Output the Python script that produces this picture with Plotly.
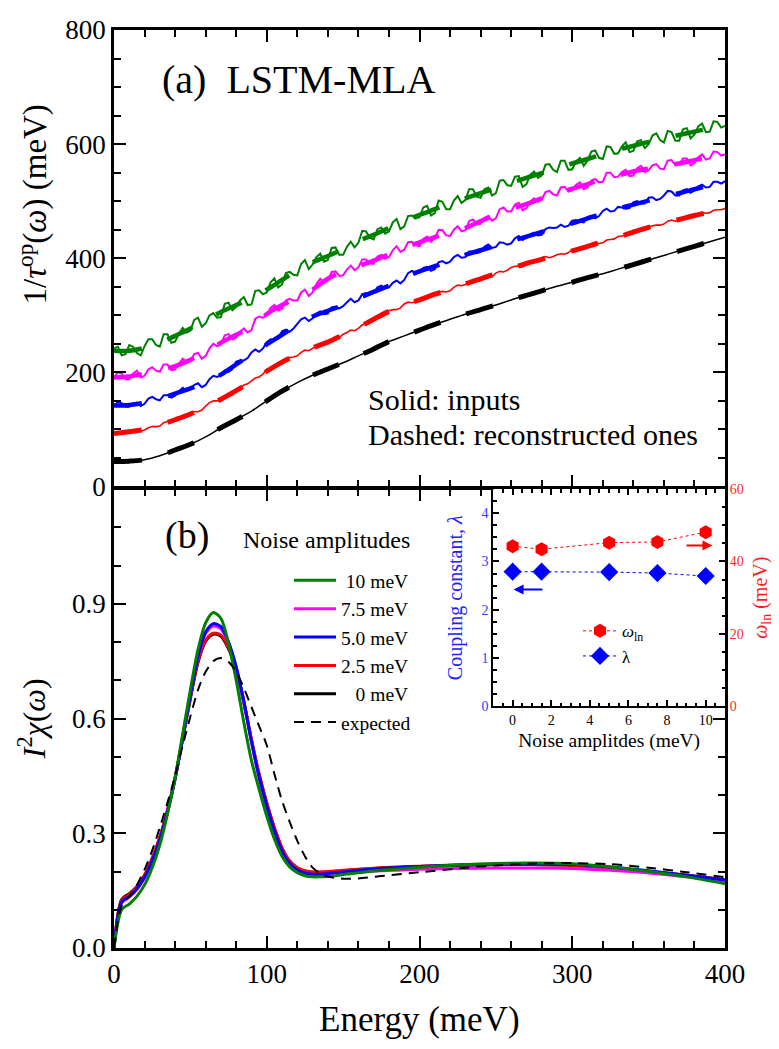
import plotly.graph_objects as go

FONT = "Liberation Serif"

# ---------------- Panel (a): optical scattering rate 1/tau^op (meV) ----------------
energy_noisy = [k * 2.5 for k in range(161)]   # grid of the noisy inputs (0 ... 400 meV)
energy_smooth = list(range(0, 401, 10))        # grid of smooth curves

rate_0meV = [44, 44.5, 47, 54, 64, 74, 87, 103, 117, 132, 150, 167, 182, 195, 206, 217, 229, 241, 254, 264,
             274, 284, 293, 302, 310, 318, 327, 335, 343, 351, 358, 366, 373, 381, 389, 397, 405, 413, 421, 429, 437]

rate_2p5_input = [93, 96, 95, 94, 95, 98, 100, 97, 99, 103, 105, 105, 106, 112, 114, 114, 117, 120, 121, 123,
                  129, 131, 131, 134, 141, 147, 150, 150, 152, 158, 160, 161, 166, 172, 178, 180, 185, 190, 192, 197,
                  205, 207, 208, 211, 218, 224, 226, 227, 229, 235, 239, 238, 242, 247, 251, 250, 252, 256, 257, 261,
                  267, 270, 274, 273, 277, 283, 286, 289, 295, 298, 299, 302, 308, 310, 310, 313, 320, 323, 322, 324,
                  326, 331, 334, 333, 336, 341, 342, 341, 343, 349, 353, 352, 354, 359, 360, 362, 366, 367, 366, 368,
                  374, 377, 376, 379, 384, 386, 386, 385, 389, 393, 396, 397, 401, 403, 401, 403, 406, 408, 407, 410,
                  415, 416, 416, 417, 422, 425, 427, 426, 427, 432, 433, 434, 438, 439, 440, 442, 449, 449, 448, 449,
                  455, 457, 458, 458, 460, 465, 467, 465, 466, 471, 472, 471, 475, 478, 480, 479, 480, 484, 485, 485,
                  487]
rate_5_input = [142, 148, 146, 140, 140, 145, 147, 141, 145, 154, 157, 153, 151, 160, 160, 156, 159, 167, 173, 168,
                170, 178, 181, 174, 178, 188, 194, 192, 195, 203, 201, 206, 219, 221, 221, 225, 235, 240, 236, 242,
                253, 258, 257, 259, 272, 275, 271, 277, 285, 293, 296, 290, 295, 303, 307, 302, 303, 314, 315, 312,
                316, 323, 329, 323, 326, 337, 339, 337, 340, 349, 352, 347, 349, 357, 361, 356, 362, 374, 378, 375,
                375, 383, 385, 378, 381, 393, 395, 391, 394, 402, 406, 401, 402, 412, 412, 409, 411, 420, 424, 418,
                420, 428, 427, 424, 426, 435, 439, 432, 436, 442, 445, 440, 441, 451, 454, 453, 454, 459, 455, 457,
                466, 467, 464, 463, 472, 474, 470, 474, 483, 487, 482, 483, 490, 489, 487, 488, 498, 500, 496, 496,
                506, 507, 502, 504, 510, 518, 517, 510, 510, 519, 521, 515, 519, 526, 529, 524, 525, 534, 534, 531,
                535]
rate_7p5_input = [191, 200, 198, 188, 188, 198, 203, 191, 194, 205, 209, 203, 201, 214, 214, 204, 205, 215, 224, 218,
                  220, 232, 234, 224, 229, 242, 250, 246, 249, 265, 267, 258, 261, 271, 277, 270, 274, 294, 298, 296,
                  300, 313, 318, 308, 312, 326, 329, 326, 326, 340, 345, 334, 340, 355, 364, 357, 361, 376, 377, 369,
                  370, 380, 387, 379, 384, 398, 398, 391, 390, 403, 406, 399, 402, 414, 421, 411, 415, 428, 429, 423,
                  421, 434, 438, 429, 435, 450, 449, 440, 439, 450, 456, 447, 449, 465, 468, 461, 460, 471, 474, 466,
                  470, 486, 489, 482, 482, 494, 497, 484, 488, 499, 505, 499, 503, 516, 518, 512, 510, 524, 525, 517,
                  519, 529, 533, 521, 524, 536, 539, 533, 534, 550, 550, 542, 543, 551, 555, 544, 545, 558, 562, 551,
                  554, 563, 565, 557, 556, 571, 572, 563, 564, 575, 575, 563, 567, 577, 582, 573, 575, 587, 586, 580,
                  582]
rate_10_input = [242, 245, 230, 232, 248, 245, 234, 230, 246, 258, 258, 248, 245, 267, 267, 252, 254, 268, 278, 270,
                 273, 292, 296, 280, 286, 300, 304, 296, 297, 320, 322, 309, 315, 326, 332, 318, 319, 343, 344, 337,
                 340, 358, 365, 349, 354, 374, 376, 371, 370, 390, 397, 381, 389, 402, 408, 394, 397, 418, 419, 406,
                 406, 420, 429, 419, 427, 448, 447, 436, 433, 451, 454, 443, 447, 463, 469, 451, 456, 474, 475, 470,
                 472, 489, 492, 475, 479, 501, 499, 486, 486, 501, 509, 497, 502, 521, 521, 508, 506, 521, 524, 510,
                 514, 536, 537, 528, 527, 543, 544, 525, 530, 546, 552, 541, 545, 564, 565, 555, 551, 571, 571, 555,
                 556, 570, 576, 562, 571, 587, 589, 576, 574, 596, 595, 583, 584, 596, 603, 586, 588, 605, 607, 593,
                 600, 615, 619, 607, 603, 623, 621, 606, 606, 626, 628, 610, 617, 631, 636, 621, 622, 640, 639, 629,
                 632]

rate_0meV_recon = [44, 44.5, 47, 54, 64, 74, 87, 103, 117, 132, 150, 167, 182, 195, 206, 217, 229, 241, 254, 264,
                   274, 284, 293, 302, 310, 318, 327, 335, 343, 351, 358, 366, 373, 381, 389, 397, 405, 413, 421, 429, 437]
rate_2p5_recon = [93, 96, 100, 108, 117, 127, 140, 153, 168, 184, 202, 218, 231, 243, 253, 266, 279, 293, 307, 318,
                  327, 337, 345, 355, 364, 373, 382, 391, 398, 406, 413, 421, 429, 437, 446, 454, 461, 468, 475, 481, 487]
rate_5_recon = [142, 143, 147, 154, 163, 172, 183, 196, 214, 232, 249, 266, 283, 298, 308, 318, 330, 341, 352, 366,
                377, 386, 395, 406, 414, 422, 430, 438, 446, 454, 461, 470, 478, 487, 494, 501, 508, 514, 521, 528, 535]
rate_7p5_recon = [191, 193, 198, 204, 211, 222, 236, 252, 266, 280, 302, 318, 330, 345, 364, 377, 386, 396, 407, 418,
                  428, 437, 445, 453, 465, 476, 486, 495, 505, 515, 522, 530, 538, 545, 552, 557, 562, 566, 572, 578, 583]
rate_10_recon = [238, 238, 243, 252, 264, 277, 292, 306, 318, 330, 345, 362, 379, 393, 404, 416, 430, 441, 453, 465,
                 476, 486, 496, 505, 514, 523, 532, 541, 549, 558, 566, 574, 582, 590, 597, 604, 610, 616, 622, 628, 634]

# ---------------- Panel (b): I^2 chi(omega) ----------------
energy_b = [0, 5, 10, 15, 20, 25, 30, 35, 40, 45, 50, 55, 60, 65, 70, 75, 80, 85, 90, 95, 100, 105, 110, 115, 120,
            125, 130, 135, 140, 150, 160, 175, 200, 225, 250, 275, 300, 325, 350, 375, 400]
chi_10 = [0, 0.1, 0.115, 0.135, 0.165, 0.21, 0.27, 0.35, 0.445, 0.56, 0.675, 0.78, 0.85, 0.877, 0.862, 0.795, 0.7,
          0.59, 0.49, 0.415, 0.345, 0.285, 0.24, 0.212, 0.197, 0.189, 0.186, 0.186, 0.187, 0.192, 0.197, 0.203,
          0.211, 0.217, 0.221, 0.222, 0.22, 0.212, 0.2, 0.186, 0.168]
chi_7p5 = [0, 0.118, 0.133, 0.153, 0.183, 0.226, 0.282, 0.355, 0.443, 0.55, 0.66, 0.76, 0.822, 0.842, 0.834, 0.796,
           0.732, 0.642, 0.538, 0.445, 0.368, 0.302, 0.25, 0.218, 0.201, 0.193, 0.191, 0.191, 0.193, 0.196, 0.199,
           0.202, 0.206, 0.208, 0.209, 0.209, 0.208, 0.203, 0.196, 0.186, 0.175]
chi_5 = [0, 0.12, 0.135, 0.155, 0.185, 0.228, 0.283, 0.355, 0.442, 0.55, 0.66, 0.762, 0.826, 0.848, 0.84, 0.8, 0.735,
         0.645, 0.54, 0.448, 0.372, 0.306, 0.254, 0.221, 0.204, 0.196, 0.193, 0.193, 0.195, 0.199, 0.203, 0.208,
         0.213, 0.217, 0.219, 0.219, 0.218, 0.212, 0.202, 0.19, 0.178]
chi_2p5 = [0, 0.125, 0.14, 0.16, 0.19, 0.235, 0.29, 0.36, 0.445, 0.55, 0.655, 0.75, 0.805, 0.823, 0.818, 0.785, 0.73,
           0.645, 0.545, 0.455, 0.38, 0.315, 0.262, 0.228, 0.21, 0.202, 0.199, 0.199, 0.2, 0.203, 0.206, 0.21,
           0.214, 0.217, 0.218, 0.218, 0.216, 0.21, 0.2, 0.19, 0.178]
chi_0 = [0, 0.127, 0.142, 0.161, 0.19, 0.234, 0.289, 0.36, 0.444, 0.548, 0.652, 0.747, 0.802, 0.82, 0.815, 0.782,
         0.727, 0.642, 0.543, 0.453, 0.378, 0.313, 0.26, 0.226, 0.209, 0.201, 0.198, 0.198, 0.199, 0.202, 0.205,
         0.209, 0.213, 0.216, 0.218, 0.218, 0.216, 0.21, 0.2, 0.19, 0.178]
chi_expected = [0, 0.11, 0.135, 0.165, 0.205, 0.255, 0.315, 0.38, 0.45, 0.53, 0.605, 0.675, 0.722, 0.75, 0.758,
                0.748, 0.722, 0.68, 0.63, 0.58, 0.53, 0.455, 0.385, 0.33, 0.28, 0.24, 0.21, 0.195, 0.187, 0.181,
                0.182, 0.188, 0.198, 0.208, 0.216, 0.221, 0.222, 0.219, 0.21, 0.198, 0.185]
legend_labels = ["\u00a010 meV", "7.5 meV", "5.0 meV", "2.5 meV", "\u00a0\u00a0\u00a00 meV", "expected"]

# ---------------- Inset: lambda and omega_ln vs noise ----------------
noise_amp = [0, 1.5, 5, 7.5, 10]
omega_ln = [44.2, 43.4, 45.2, 45.4, 48.1]
coupling_lambda = [2.79, 2.79, 2.78, 2.76, 2.70]

panel_b_y_ticks = [0, 0.3, 0.6, 0.9]
panel_b_y_text = ["0.0", "0.3", "0.6", "0.9"]

GREEN, MAGENTA, BLUE, RED, BLACK = "#008000", "#ff00ff", "#0000ff", "#ff0000", "#000000"
DASH_A = "28px,27px"

fig = go.Figure()

# panel (a): reconstructions hidden under the noisy inputs (blue, magenta, green)
for ys, c in [(rate_10_recon, GREEN), (rate_7p5_recon, MAGENTA), (rate_5_recon, BLUE)]:
    fig.add_trace(go.Scatter(x=energy_smooth, y=ys, mode="lines",
                             line=dict(color=c, width=4.5, dash=DASH_A, shape="spline"),
                             xaxis="x2", yaxis="y2", showlegend=False))
# panel (a) inputs (solid)
for ys, c, w in [(rate_10_input, GREEN, 2.0), (rate_7p5_input, MAGENTA, 2.0), (rate_5_input, BLUE, 2.0),
                 (rate_2p5_input, RED, 1.6)]:
    fig.add_trace(go.Scatter(x=energy_noisy, y=ys, mode="lines", line=dict(color=c, width=w, simplify=False),
                             xaxis="x2", yaxis="y2", showlegend=False))
fig.add_trace(go.Scatter(x=energy_smooth, y=rate_0meV, mode="lines", line=dict(color=BLACK, width=1.5, shape="spline"),
                         xaxis="x2", yaxis="y2", showlegend=False))
# panel (a) reconstructions drawn on top (red, black)
for ys, c in [(rate_2p5_recon, RED), (rate_0meV_recon, BLACK)]:
    fig.add_trace(go.Scatter(x=energy_smooth, y=ys, mode="lines",
                             line=dict(color=c, width=5, dash=DASH_A, shape="spline"),
                             xaxis="x2", yaxis="y2", showlegend=False))

# panel (b)
for ys, c, lab, rank in [(chi_0, BLACK, legend_labels[4], 5), (chi_2p5, RED, legend_labels[3], 4),
                         (chi_7p5, MAGENTA, legend_labels[1], 2), (chi_5, BLUE, legend_labels[2], 3),
                         (chi_10, GREEN, legend_labels[0], 1)]:
    fig.add_trace(go.Scatter(x=energy_b, y=ys, mode="lines", name=lab, legendrank=rank,
                             line=dict(color=c, width=3, shape="spline", smoothing=0.8),
                             xaxis="x", yaxis="y"))
fig.add_trace(go.Scatter(x=energy_b, y=chi_expected, mode="lines", name=legend_labels[5], legendrank=6,
                         line=dict(color=BLACK, width=2, dash="10px,7px", shape="spline", smoothing=0.8),
                         xaxis="x", yaxis="y"))

# inset
fig.add_trace(go.Scatter(x=noise_amp, y=omega_ln, mode="lines+markers", name="<i>ω</i><sub>ln</sub>",
                         marker=dict(symbol="hexagon", size=14, color=RED),
                         line=dict(color=RED, width=1, dash="dot"),
                         xaxis="x3", yaxis="y4", legend="legend2"))
fig.add_trace(go.Scatter(x=noise_amp, y=coupling_lambda, mode="lines+markers", name="λ",
                         marker=dict(symbol="diamond", size=14, color=BLUE),
                         line=dict(color=BLUE, width=1, dash="dot"),
                         xaxis="x3", yaxis="y3", legend="legend2"))

base = dict(showline=True, linecolor="black", linewidth=2.5, ticks="inside", ticklen=12, tickwidth=2,
            tickcolor="black", showgrid=False, zeroline=False, ticklabeloverflow="allow",
            tickfont=dict(family=FONT, size=27, color="black"))
minor_main = dict(ticks="inside", ticklen=7, tickwidth=2, tickcolor="black", showgrid=False)

inset_base = dict(showline=True, linecolor="black", linewidth=2, ticks="inside", ticklen=6, tickwidth=1.5,
                  tickcolor="black", showgrid=False, zeroline=False)
minor_inset = dict(ticks="inside", ticklen=3.5, tickwidth=1.5, tickcolor="black", showgrid=False)

fig.update_layout(
    width=771, height=1041,
    margin=dict(l=106, r=54, t=7, b=101),
    paper_bgcolor="white", plot_bgcolor="white",
    font=dict(family=FONT, color="black"),
    xaxis=dict(**base, domain=[0, 1], anchor="y", range=[0, 400], tick0=0, dtick=100, mirror="ticks",
               minor=dict(**minor_main, dtick=20, tick0=0)),
    xaxis2=dict(**base, domain=[0, 1], anchor="y2", range=[0, 400], tick0=0, dtick=100, mirror="ticks",
                matches="x", showticklabels=False, minor=dict(**minor_main, dtick=20, tick0=0)),
    yaxis=dict(**base, domain=[0, 0.5], anchor="x", range=[0, 1.2], tickmode="array",
               tickvals=panel_b_y_ticks, ticktext=panel_b_y_text, mirror="ticks",
               minor=dict(**minor_main, tickmode="linear", dtick=0.1, tick0=0)),
    yaxis2=dict(**base, domain=[0.5027, 1], anchor="x2", range=[0, 800], tick0=0, dtick=200, mirror="ticks",
                minor=dict(**minor_main, dtick=50, tick0=0)),
    xaxis3=dict(**inset_base, domain=[0.6208, 1.0], anchor="y3", range=[-1, 11], tick0=0, dtick=2, mirror="ticks",
                minor=dict(**minor_inset, dtick=0.5, tick0=0),
                tickfont=dict(family=FONT, size=14, color="black"),
                title=dict(text="Noise amplitdes (meV)", font=dict(family=FONT, size=19.5), standoff=6)),
    yaxis3=dict(**inset_base, domain=[0.2631, 0.5], anchor="x3", range=[0, 4.5], tick0=0, dtick=1,
                minor=dict(**minor_inset, dtick=0.25, tick0=0),
                tickfont=dict(family=FONT, size=14, color="#3a3aff"),
                title=dict(text="Coupling constant, <i>λ</i>", font=dict(family=FONT, size=20, color="#2020ff"),
                           standoff=14)),
    yaxis4=dict(**inset_base, overlaying="y3", side="right", anchor="x3", range=[0, 60], tick0=0, dtick=20,
                minor=dict(**minor_inset, dtick=5, tick0=0),
                tickfont=dict(family=FONT, size=14, color="#ff2a2a"),
                title=dict(text="<i>ω</i><sub>ln</sub> (meV)", font=dict(family=FONT, size=20, color="#ff1a1a"),
                           standoff=10)),
    legend=dict(x=0.2864, y=0.4214, xanchor="left", yanchor="top", bgcolor="rgba(0,0,0,0)",
                font=dict(family=FONT, size=19.5), itemwidth=42, tracegroupgap=0),
    legend2=dict(x=0.7594, y=0.3646, xanchor="left", yanchor="top", bgcolor="rgba(0,0,0,0)",
                 font=dict(family=FONT, size=17), itemwidth=34),
    annotations=[
        dict(text="1/<i>τ</i><sup>op</sup>(<i>ω</i>) (meV)", xref="paper", yref="paper", x=-0.1326, y=0.810,
             xanchor="center", yanchor="middle", textangle=-90, showarrow=False, font=dict(family=FONT, size=33)),
        dict(text="<i>I</i><sup>2</sup><i>χ</i>(<i>ω</i>)", xref="paper", yref="paper", x=-0.134, y=0.2493,
             xanchor="center", yanchor="middle", textangle=-90, showarrow=False, font=dict(family=FONT, size=32)),
        dict(text="Energy (meV)", xref="paper", yref="paper", x=0.5, y=-0.0774,
             xanchor="center", yanchor="middle", showarrow=False, font=dict(family=FONT, size=35)),
        dict(text="(a)\u2002LSTM-MLA", xref="paper", yref="paper", x=0.0753, y=0.9463, xanchor="left",
             yanchor="middle", showarrow=False, font=dict(family=FONT, size=40)),
        dict(text="(b)", xref="paper", yref="paper", x=0.080, y=0.4495, xanchor="left",
             yanchor="middle", showarrow=False, font=dict(family=FONT, size=38)),
        dict(text="Noise amplitudes", xref="paper", yref="paper", x=0.4877, y=0.4448, xanchor="right",
             yanchor="middle", showarrow=False, font=dict(family=FONT, size=24)),
        dict(text="Solid: inputs", xref="paper", yref="paper", x=0.4124, y=0.5980, xanchor="left",
             yanchor="middle", showarrow=False, font=dict(family=FONT, size=30)),
        dict(text="Dashed: reconstructed ones", xref="paper", yref="paper", x=0.4124, y=0.5596, xanchor="left",
             yanchor="middle", showarrow=False, font=dict(family=FONT, size=30)),
        dict(text="", xref="x3", yref="y4", x=10.35, y=44.4, axref="x3", ayref="y4", ax=8.93, ay=44.4,
             showarrow=True, arrowhead=2, arrowsize=1, arrowwidth=2, arrowcolor=RED),
        dict(text="", xref="x3", yref="y3", x=0.05, y=2.42, axref="x3", ayref="y3", ax=1.62, ay=2.42,
             showarrow=True, arrowhead=2, arrowsize=1, arrowwidth=2, arrowcolor=BLUE),
    ],
)

fig.write_html("out.html")
